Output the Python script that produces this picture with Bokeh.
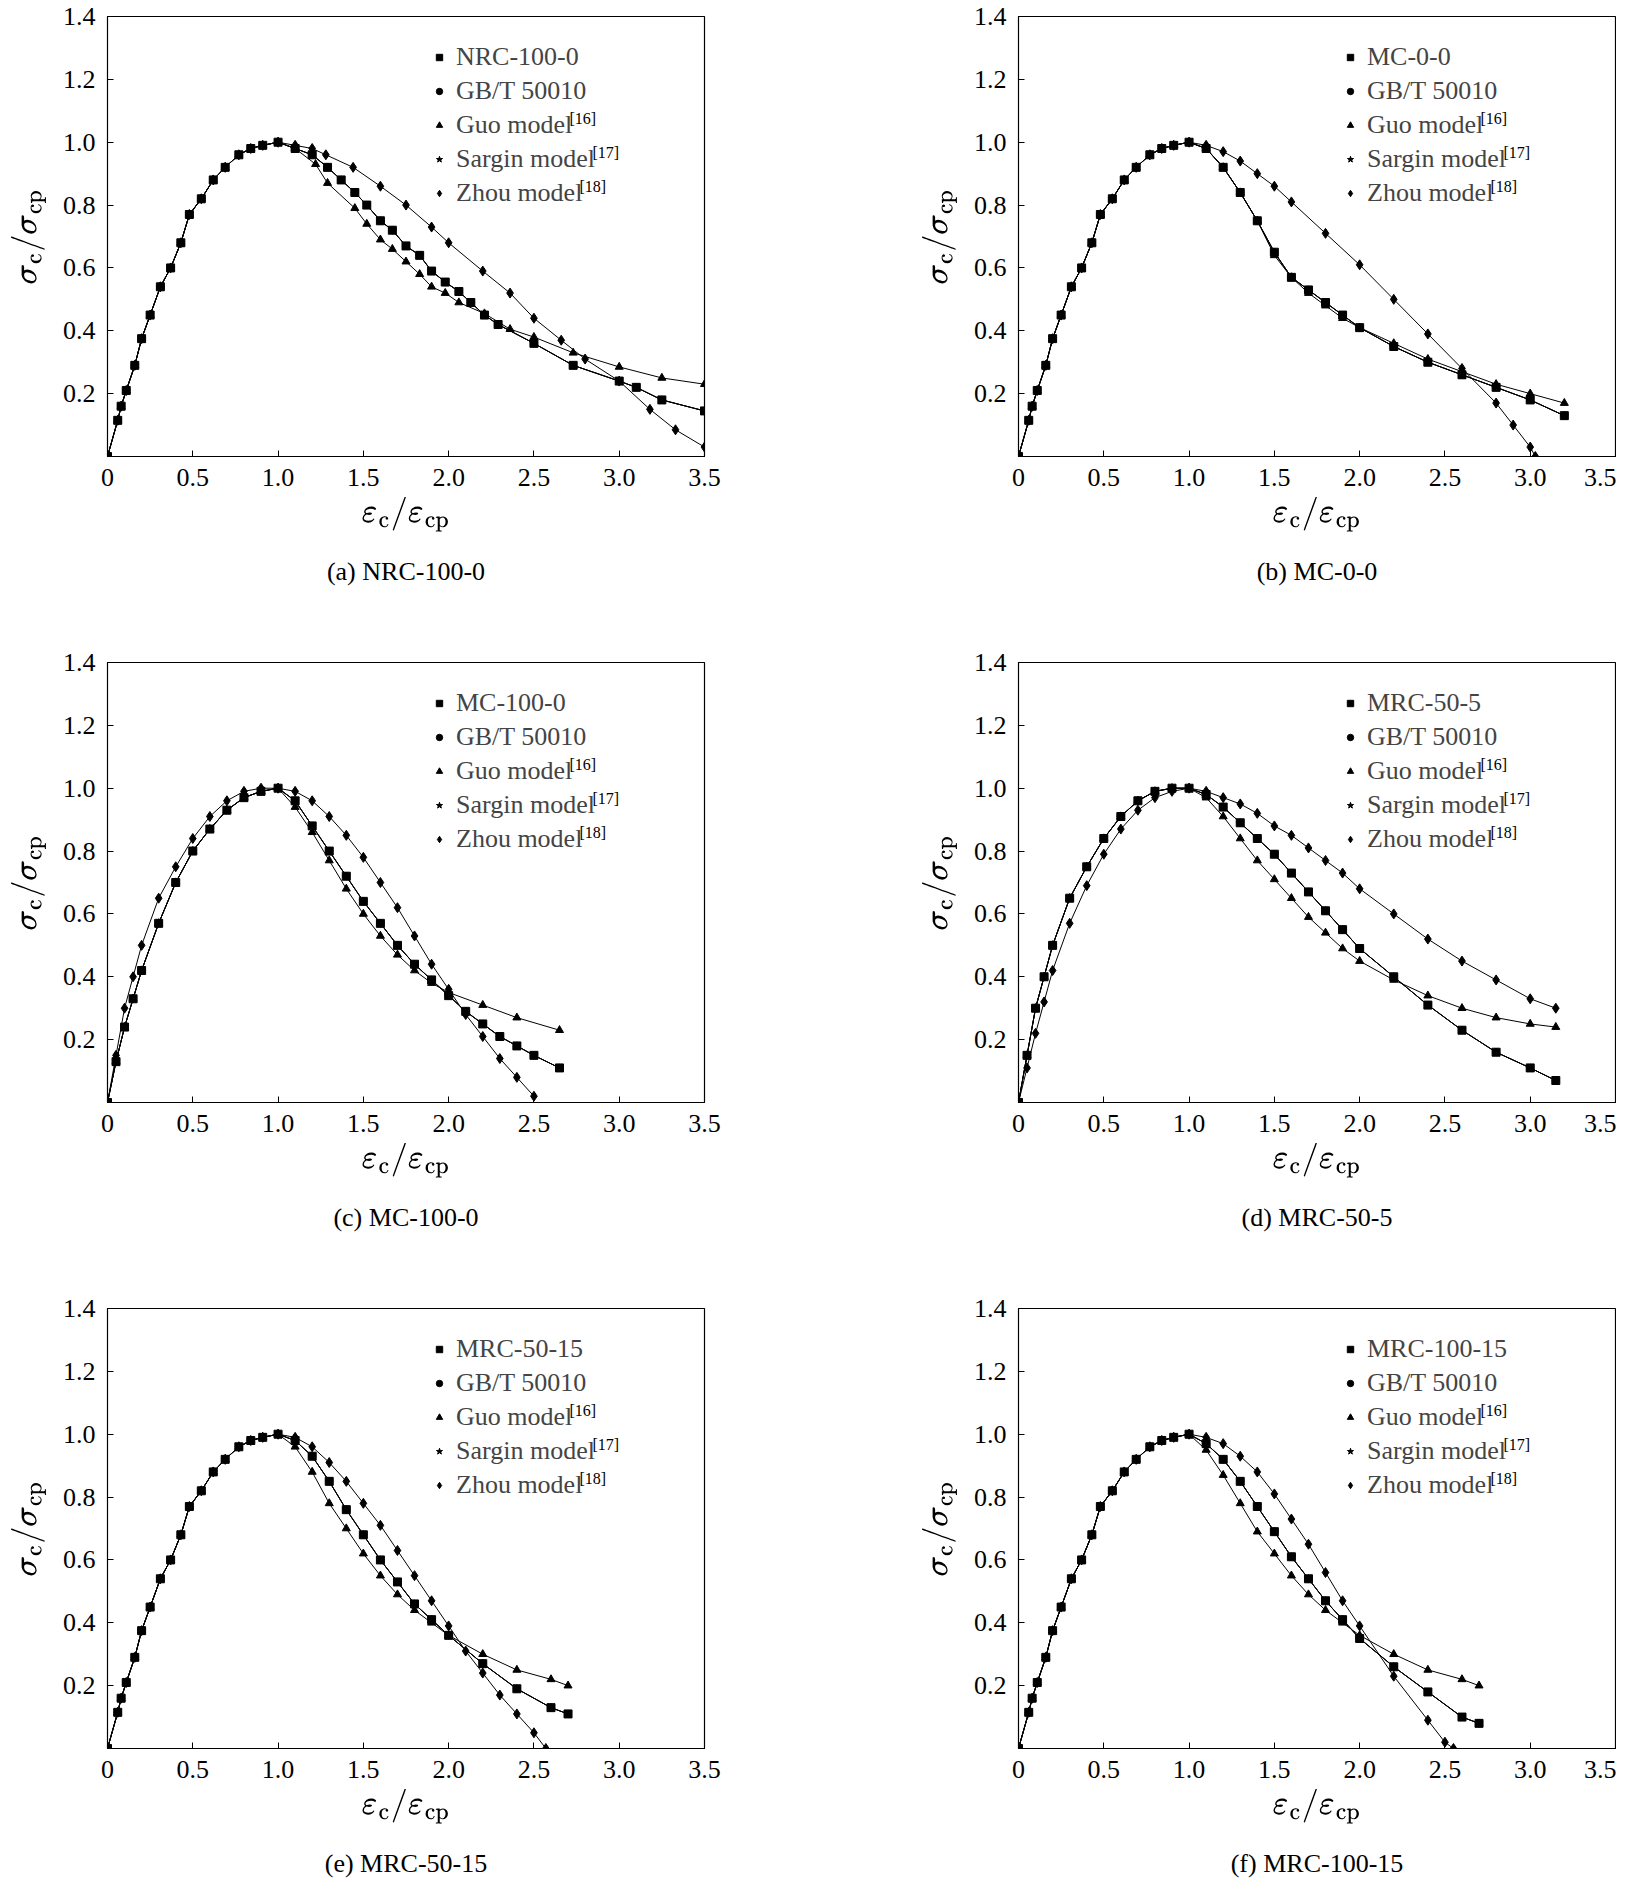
from bokeh.plotting import figure
from bokeh.layouts import gridplot
from bokeh.models import Range1d, FixedTicker, Label, Legend, LegendItem, LinearAxis
from bokeh.embed import file_html
from bokeh.resources import INLINE

FONT = "Liberation Serif"

# ---------------- data ----------------
asc_x = [0, 0.06, 0.08, 0.11, 0.16, 0.2, 0.25, 0.31, 0.37, 0.43, 0.48, 0.55, 0.62, 0.69, 0.77, 0.84, 0.91, 1.0]
asc_y = [0, 0.115, 0.16, 0.21, 0.29, 0.375, 0.45, 0.54, 0.6, 0.68, 0.77, 0.82, 0.88, 0.92, 0.96, 0.98, 0.99, 1.0]
steep_x = [0, 0.05, 0.1, 0.15, 0.2, 0.3, 0.4, 0.5, 0.6, 0.7, 0.8, 0.9, 1.0]
steep_y = [0, 0.13, 0.24, 0.33, 0.42, 0.57, 0.7, 0.8, 0.87, 0.93, 0.97, 0.99, 1.0]
steep2_y = [0, 0.15, 0.3, 0.4, 0.5, 0.65, 0.75, 0.84, 0.91, 0.96, 0.99, 1.0, 1.0]
zhou_d_y = [0, 0.11, 0.22, 0.32, 0.42, 0.57, 0.69, 0.79, 0.87, 0.93, 0.97, 0.99, 1.0]

panel_names = ["NRC-100-0", "MC-0-0", "MC-100-0", "MRC-50-5", "MRC-50-15", "MRC-100-15"]
captions = ["(a) NRC-100-0", "(b) MC-0-0", "(c) MC-100-0", "(d) MRC-50-5", "(e) MRC-50-15", "(f) MRC-100-15"]

a_exp_x = [1.1, 1.2, 1.29, 1.37, 1.45, 1.52, 1.6, 1.67, 1.75, 1.83, 1.9, 1.98, 2.06, 2.13, 2.21, 2.29, 2.5, 2.73, 3.0, 3.1, 3.25, 3.5]
a_exp_y = [0.98, 0.96, 0.92, 0.88, 0.84, 0.80, 0.75, 0.72, 0.67, 0.64, 0.59, 0.555, 0.525, 0.49, 0.45, 0.42, 0.36, 0.29, 0.24, 0.22, 0.18, 0.145]
a_guo_x = [1.1, 1.22, 1.29, 1.45, 1.52, 1.6, 1.67, 1.75, 1.83, 1.9, 1.98, 2.06, 2.21, 2.36, 2.5, 2.73, 3.0, 3.25, 3.5]
a_guo_y = [0.98, 0.93, 0.87, 0.79, 0.74, 0.69, 0.66, 0.62, 0.58, 0.54, 0.52, 0.49, 0.455, 0.405, 0.38, 0.33, 0.285, 0.25, 0.23]
a_zhou_x = [1.1, 1.2, 1.28, 1.44, 1.6, 1.75, 1.9, 2.0, 2.2, 2.36, 2.5, 2.66, 2.8, 3.0, 3.18, 3.33, 3.5]
a_zhou_y = [0.99, 0.98, 0.96, 0.92, 0.86, 0.80, 0.73, 0.68, 0.59, 0.52, 0.44, 0.37, 0.31, 0.24, 0.15, 0.085, 0.03]

b_exp_x = [1.1, 1.2, 1.3, 1.4, 1.5, 1.6, 1.7, 1.8, 1.9, 2.0, 2.2, 2.4, 2.6, 2.8, 3.0, 3.2]
b_exp_y = [0.98, 0.92, 0.84, 0.75, 0.65, 0.57, 0.53, 0.49, 0.45, 0.41, 0.35, 0.30, 0.26, 0.22, 0.18, 0.13]
b_guo_y = [0.98, 0.92, 0.84, 0.75, 0.64, 0.57, 0.52, 0.48, 0.44, 0.41, 0.36, 0.31, 0.27, 0.23, 0.20, 0.17]
b_zhou_x = [1.1, 1.2, 1.3, 1.4, 1.5, 1.6, 1.8, 2.0, 2.2, 2.4, 2.6, 2.8, 2.9, 3.0, 3.03]
b_zhou_y = [0.99, 0.97, 0.94, 0.90, 0.86, 0.81, 0.71, 0.61, 0.50, 0.39, 0.28, 0.17, 0.10, 0.03, 0.0]

c_exp_x = [1.1, 1.2, 1.3, 1.4, 1.5, 1.6, 1.7, 1.8, 1.9, 2.0, 2.1, 2.2, 2.3, 2.4, 2.5, 2.65]
c_exp_y = [0.96, 0.88, 0.80, 0.72, 0.64, 0.57, 0.50, 0.44, 0.39, 0.34, 0.29, 0.25, 0.21, 0.18, 0.15, 0.11]
c_guo_x = [1.1, 1.2, 1.3, 1.4, 1.5, 1.6, 1.7, 1.8, 1.9, 2.0, 2.2, 2.4, 2.65]
c_guo_y = [0.94, 0.86, 0.77, 0.68, 0.60, 0.53, 0.47, 0.42, 0.38, 0.35, 0.31, 0.27, 0.23]
c_zhou_x = [1.1, 1.2, 1.3, 1.4, 1.5, 1.6, 1.7, 1.8, 1.9, 2.0, 2.1, 2.2, 2.3, 2.4, 2.5]
c_zhou_y = [0.99, 0.96, 0.91, 0.85, 0.78, 0.70, 0.62, 0.53, 0.44, 0.36, 0.28, 0.21, 0.14, 0.08, 0.02]

d_exp_x = [1.1, 1.2, 1.3, 1.4, 1.5, 1.6, 1.7, 1.8, 1.9, 2.0, 2.2, 2.4, 2.6, 2.8, 3.0, 3.15]
d_exp_y = [0.98, 0.94, 0.89, 0.84, 0.79, 0.73, 0.67, 0.61, 0.55, 0.49, 0.40, 0.31, 0.23, 0.16, 0.11, 0.07]
d_guo_y = [0.97, 0.91, 0.84, 0.77, 0.71, 0.65, 0.59, 0.54, 0.49, 0.45, 0.39, 0.34, 0.30, 0.27, 0.25, 0.24]
d_zhou_y = [0.99, 0.97, 0.95, 0.92, 0.88, 0.85, 0.81, 0.77, 0.73, 0.68, 0.60, 0.52, 0.45, 0.39, 0.33, 0.30]

e_exp_x = [1.1, 1.2, 1.3, 1.4, 1.5, 1.6, 1.7, 1.8, 1.9, 2.0, 2.2, 2.4, 2.6, 2.7]
e_exp_y = [0.98, 0.93, 0.85, 0.76, 0.68, 0.60, 0.53, 0.46, 0.41, 0.36, 0.27, 0.19, 0.13, 0.11]
e_guo_y = [0.96, 0.88, 0.78, 0.70, 0.62, 0.55, 0.49, 0.44, 0.40, 0.36, 0.30, 0.25, 0.22, 0.20]
e_zhou_x = [1.1, 1.2, 1.3, 1.4, 1.5, 1.6, 1.7, 1.8, 1.9, 2.0, 2.1, 2.2, 2.3, 2.4, 2.5, 2.57]
e_zhou_y = [0.99, 0.96, 0.91, 0.85, 0.78, 0.71, 0.63, 0.55, 0.47, 0.39, 0.31, 0.24, 0.17, 0.11, 0.05, 0.0]

f_exp_y = [0.97, 0.92, 0.85, 0.77, 0.69, 0.61, 0.54, 0.47, 0.41, 0.35, 0.26, 0.18, 0.10, 0.08]
f_guo_y = [0.95, 0.87, 0.78, 0.69, 0.62, 0.55, 0.49, 0.44, 0.40, 0.36, 0.30, 0.25, 0.22, 0.20]
f_zhou_x = [1.1, 1.2, 1.3, 1.4, 1.5, 1.6, 1.7, 1.8, 1.9, 2.0, 2.2, 2.4, 2.5, 2.55]
f_zhou_y = [0.99, 0.97, 0.93, 0.88, 0.81, 0.73, 0.65, 0.56, 0.47, 0.39, 0.23, 0.09, 0.02, 0.0]

# per panel: (asc_x, asc_y, asc_zhou_y, exp_x, exp_y, guo_x, guo_y, zhou_x, zhou_y)
panels = [
    (asc_x, asc_y, asc_y, a_exp_x, a_exp_y, a_guo_x, a_guo_y, a_zhou_x, a_zhou_y),
    (asc_x, asc_y, asc_y, b_exp_x, b_exp_y, b_exp_x, b_guo_y, b_zhou_x, b_zhou_y),
    (steep_x, steep_y, steep2_y, c_exp_x, c_exp_y, c_guo_x, c_guo_y, c_zhou_x, c_zhou_y),
    (steep_x, steep2_y, zhou_d_y, d_exp_x, d_exp_y, d_exp_x, d_guo_y, d_exp_x, d_zhou_y),
    (asc_x, asc_y, asc_y, e_exp_x, e_exp_y, e_exp_x, e_guo_y, e_zhou_x, e_zhou_y),
    (asc_x, asc_y, asc_y, e_exp_x, f_exp_y, e_exp_x, f_guo_y, f_zhou_x, f_zhou_y),
]

x_ticks = [0, 0.5, 1.0, 1.5, 2.0, 2.5, 3.0, 3.5]
y_ticks = [0.2, 0.4, 0.6, 0.8, 1.0, 1.2, 1.4]
legend_rest = ["GB/T 50010", "Guo model", "Sargin model", "Zhou model"]
legend_sup = ["", "", "[16]", "[17]", "[18]"]

# ---------------- layout ----------------
PW, PH = 597, 440
BL, BT = 107, 16
LEFT_W, RIGHT_W = 911, 705
ROW_H = 646


def make(i):
    ax, ay, azy, ex, ey, gx, gy, zx, zy = panels[i]
    left = (i % 2 == 0)
    last = (i >= 4)
    w = LEFT_W if left else RIGHT_W
    h = 590 if last else ROW_H
    p = figure(width=w, height=h, output_backend="svg", toolbar_location=None,
               x_range=Range1d(0, 3.5), y_range=Range1d(0, 1.4),
               min_border_left=BL, min_border_top=BT,
               min_border_right=w - BL - PW, min_border_bottom=h - BT - PH)
    p.grid.visible = False
    p.outline_line_color = "black"
    p.outline_line_width = 1.2
    p.background_fill_color = "white"
    p.border_fill_color = "white"
    for a in (p.xaxis, p.yaxis):
        a.major_tick_in = 6
        a.major_tick_out = 0
        a.minor_tick_line_color = None
        a.axis_line_color = "black"
        a.major_label_text_font = FONT
        a.major_label_text_font_size = "26px"
        a.major_label_text_color = "black"
        a.axis_label_text_font_size = "28px"
        a.axis_label_text_color = "black"
    p.xaxis.ticker = FixedTicker(ticks=x_ticks)
    p.yaxis.ticker = FixedTicker(ticks=y_ticks)
    p.xaxis.major_label_overrides = {t: ("0" if t == 0 else f"{t:.1f}") for t in x_ticks}
    p.yaxis.major_label_overrides = {t: f"{t:.1f}" for t in y_ticks}
    p.xaxis.major_label_standoff = 12
    p.yaxis.major_label_standoff = 12
    p.xaxis.axis_label = r"$$\varepsilon_\mathrm{c}/\varepsilon_\mathrm{cp}$$"
    p.yaxis.axis_label = r"$$\sigma_\mathrm{c}/\sigma_\mathrm{cp}$$"
    p.xaxis.axis_label_standoff = 8
    p.yaxis.axis_label_standoff = 14

    cap = LinearAxis(axis_label=captions[i], axis_line_color=None, major_tick_line_color=None,
                     minor_tick_line_color=None, major_label_text_font_size="0px",
                     axis_label_text_font=FONT, axis_label_text_font_size="26px",
                     axis_label_text_font_style="normal", axis_label_text_color="black",
                     axis_label_standoff=22, ticker=FixedTicker(ticks=[]))
    p.add_layout(cap, "below")

    series = [
        (ax + ex, ay + ey, "square", 8),
        (ax + ex, ay + ey, "circle", 7),
        (ax + gx, ay + gy, "triangle", 8),
        (ax + ex, ay + ey, "star", 8),
        (ax + zx, azy + zy, "diamond", 10),
    ]
    items = []
    names = [panel_names[i]] + legend_rest
    for (xs, ys, mk, sz), nm in zip(series, names):
        p.line(xs, ys, line_color="black", line_width=1)
        r = p.scatter(xs, ys, marker=mk, size=sz, fill_color="black", line_color="black")
        items.append(LegendItem(label=nm, renderers=[r]))
    leg = Legend(items=items, location=(324, PH - 192), padding=0, margin=0,
                 glyph_width=16, glyph_height=26, label_height=26, label_standoff=9,
                 spacing=4, border_line_color=None, background_fill_alpha=0,
                 label_text_font=FONT, label_text_font_size="26px")
    p.add_layout(leg)
    sup_w = [0, 0, 113, 136, 123]
    for k in range(5):
        if legend_sup[k]:
            cy = PH - (41 + 34 * k)
            p.add_layout(Label(x=0, y=0, x_offset=349 + sup_w[k], y_offset=cy + 7,
                               text=legend_sup[k], text_font=FONT, text_font_size="16px",
                               text_baseline="middle", text_color="black"))
    return p


figs = [make(i) for i in range(6)]
grid = gridplot([[figs[0], figs[1]], [figs[2], figs[3]], [figs[4], figs[5]]],
                toolbar_location=None)
open("out.html", "w").write(file_html(grid, INLINE))
